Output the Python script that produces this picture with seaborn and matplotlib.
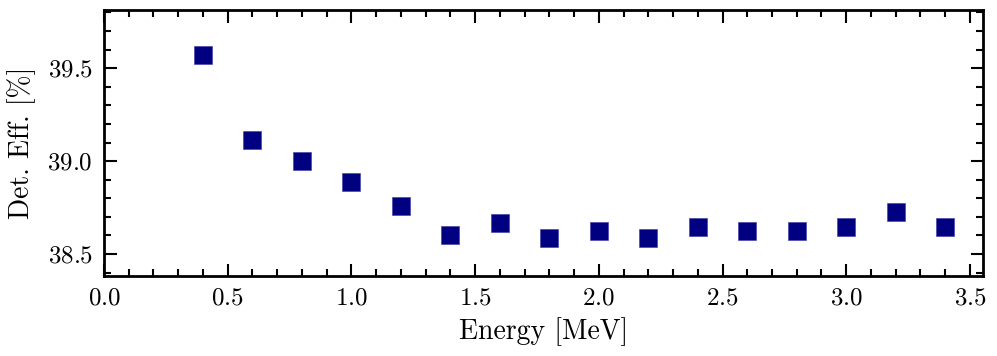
import numpy as np
import pandas as pd
import matplotlib
matplotlib.use('Agg')
import matplotlib.pyplot as plt
import seaborn as sns
from matplotlib.ticker import MultipleLocator

energy = [0.4, 0.6, 0.8, 1.0, 1.2, 1.4, 1.6, 1.8, 2.0, 2.2, 2.4, 2.6, 2.8, 3.0, 3.2, 3.4]
det_eff = [39.57, 39.115, 39.0, 38.89, 38.756, 38.60, 38.665, 38.588, 38.622, 38.586,
           38.647, 38.624, 38.625, 38.643, 38.726, 38.647]


def setup_style():
    sns.set_style('ticks')
    plt.rcParams['font.family'] = 'serif'
    plt.rcParams['font.serif'] = ['cmr10', 'DejaVu Serif']
    plt.rcParams['mathtext.fontset'] = 'cm'
    plt.rcParams['axes.formatter.use_mathtext'] = True
    plt.rcParams['axes.unicode_minus'] = False
    plt.rcParams['text.color'] = 'black'
    plt.rcParams['axes.labelcolor'] = 'black'
    plt.rcParams['axes.edgecolor'] = 'black'
    plt.rcParams['xtick.color'] = 'black'
    plt.rcParams['ytick.color'] = 'black'


def make_plot(df):
    fig = plt.figure(figsize=(9.97, 3.56), dpi=100)
    ax = fig.add_axes([0.1043, 0.2247, 0.8817, 0.7473])
    sns.scatterplot(data=df, x='energy', y='eff', marker='s', s=150, color='#000080',
                    edgecolor='#3a3aa8', linewidth=0.4, ax=ax)
    ax.set_xlim(0, 3.553)
    ax.set_ylim(38.382, 39.813)
    ax.xaxis.set_major_locator(MultipleLocator(0.5))
    ax.xaxis.set_minor_locator(MultipleLocator(0.1))
    ax.yaxis.set_major_locator(MultipleLocator(0.5))
    ax.yaxis.set_minor_locator(MultipleLocator(0.1))
    ax.tick_params(which='both', direction='in', top=True, right=True, labelsize=18, width=1.5, pad=8)
    ax.tick_params(which='major', length=9)
    ax.tick_params(which='minor', length=5)
    for sp in ax.spines.values():
        sp.set_linewidth(2)
    ax.set_xlabel('Energy [MeV]', fontsize=20, labelpad=6)
    ax.set_ylabel('Det. Eff. [%]', fontsize=20, labelpad=8)
    fig.savefig('out.png', dpi=100)


if __name__ == '__main__':
    setup_style()
    df = pd.DataFrame({'energy': energy, 'eff': det_eff})
    make_plot(df)
